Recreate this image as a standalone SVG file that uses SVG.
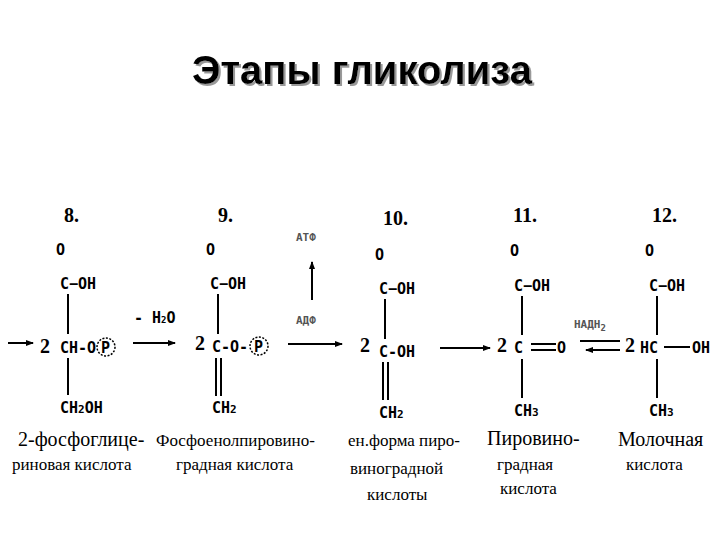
<svg xmlns="http://www.w3.org/2000/svg" width="720" height="540" viewBox="0 0 720 540">
<defs>
<marker id="ah" markerWidth="8" markerHeight="6" refX="7" refY="3" orient="auto" markerUnits="userSpaceOnUse"><path d="M0,0 L8,3 L0,6 Z" fill="#000"/></marker>
<filter id="sh" x="-5%" y="-20%" width="110%" height="150%"><feDropShadow dx="2" dy="2" stdDeviation="0.5" flood-color="#999"/></filter>
<style>
.t{font-family:"Liberation Sans",Arial,sans-serif;font-size:40px;font-weight:bold}
.f{font-family:"DejaVu Sans Mono","Liberation Mono",monospace;font-size:15px;font-weight:bold;fill:#000}
.s{font-family:"DejaVu Sans Mono","Liberation Mono",monospace;font-size:11px;font-weight:bold;fill:#555}
.n{font-family:"Liberation Serif","Times New Roman",serif;font-size:20px;font-weight:bold}
.c{font-family:"Liberation Serif","Times New Roman",serif;font-size:20px}
.c2{font-family:"Liberation Serif","Times New Roman",serif;font-size:17px}
line{stroke:#000;stroke-width:2}
.p{fill:none;stroke:#000;stroke-width:1.5;stroke-dasharray:2 1.5}
</style>
</defs>
<rect width="720" height="540" fill="#fff"/>
<text class="t" x="362" y="84" text-anchor="middle" filter="url(#sh)">Этапы гликолиза</text>

<g id="s8">
<text class="n" x="64" y="222">8.</text>
<text class="f" x="56" y="255">O</text>
<text class="f" x="60" y="289">C−OH</text>
<line x1="68" y1="294" x2="68" y2="334"/>
<text class="n" x="40" y="353">2</text>
<text class="f" x="60" y="353">CH-O</text>
<circle class="p" cx="106" cy="347" r="9"/><text class="f" x="101" y="353">P</text>
<line x1="68" y1="358" x2="68" y2="395"/>
<text class="f" x="60" y="413">CH<tspan font-size="11">2</tspan>OH</text>
<text class="c" x="18" y="446">2-фосфоглице-</text>
<text class="c2" x="12" y="470">риновая кислота</text>
</g>

<g id="s9">
<text class="n" x="218" y="222">9.</text>
<text class="f" x="206" y="255">O</text>
<text class="f" x="210" y="289">C−OH</text>
<line x1="218" y1="294" x2="218" y2="334"/>
<text class="n" x="195" y="350">2</text>
<text class="f" x="212" y="352">C-O-</text>
<circle class="p" cx="259" cy="346" r="9"/><text class="f" x="254" y="352">P</text>
<line x1="216" y1="358" x2="216" y2="396"/><line x1="221" y1="358" x2="221" y2="396"/>
<text class="f" x="212" y="413">CH<tspan font-size="11">2</tspan></text>
<text class="c2" x="156" y="446">Фосфоенолпировино-</text>
<text class="c2" x="176" y="470">градная кислота</text>
</g>

<g id="s10">
<text class="n" x="383" y="225">10.</text>
<text class="f" x="375" y="260">O</text>
<text class="f" x="379" y="294">C−OH</text>
<line x1="385" y1="299" x2="385" y2="339"/>
<text class="n" x="360" y="352">2</text>
<text class="f" x="379" y="357">C-OH</text>
<line x1="383" y1="362" x2="383" y2="400"/><line x1="388" y1="362" x2="388" y2="400"/>
<text class="f" x="379" y="418">CH<tspan font-size="11">2</tspan></text>
<text class="c2" x="348" y="446">ен.форма пиро-</text>
<text class="c2" x="350" y="474">виноградной</text>
<text class="c2" x="367" y="500">кислоты</text>
</g>

<g id="s11">
<text class="n" x="513" y="222">11.</text>
<text class="f" x="510" y="256">O</text>
<text class="f" x="514" y="291">C−OH</text>
<line x1="522" y1="296" x2="522" y2="335"/>
<text class="n" x="497" y="352">2</text>
<text class="f" x="514" y="353">C</text>
<line x1="531" y1="344" x2="556" y2="344"/><line x1="531" y1="350" x2="556" y2="350"/>
<text class="f" x="557" y="353">O</text>
<line x1="522" y1="359" x2="522" y2="398"/>
<text class="f" x="514" y="416">CH<tspan font-size="11">3</tspan></text>
<text class="c" x="487" y="445">Пировино-</text>
<text class="c2" x="497" y="470">градная</text>
<text class="c2" x="500" y="494">кислота</text>
</g>

<g id="s12">
<text class="n" x="652" y="222">12.</text>
<text class="f" x="645" y="256">O</text>
<text class="f" x="649" y="291">C−OH</text>
<line x1="657" y1="296" x2="657" y2="335"/>
<text class="n" x="625" y="352">2</text>
<text class="f" x="640" y="353">HC</text>
<line x1="664" y1="347" x2="690" y2="347"/>
<text class="f" x="692" y="353">OH</text>
<line x1="657" y1="359" x2="657" y2="398"/>
<text class="f" x="649" y="416">CH<tspan font-size="11">3</tspan></text>
<text class="c" x="618" y="446">Молочная</text>
<text class="c2" x="626" y="470">кислота</text>
</g>

<g id="connectors">
<line x1="8" y1="343" x2="33" y2="343" marker-end="url(#ah)"/>
<line x1="133" y1="343" x2="175" y2="343" marker-end="url(#ah)"/>
<text class="f" x="134" y="323" font-size="13">- H<tspan font-size="9">2</tspan>O</text>
<text class="s" x="296" y="241">АТФ</text>
<line x1="312" y1="300" x2="312" y2="262" marker-end="url(#ah)"/>
<text class="s" x="296" y="324">АДФ</text>
<line x1="288" y1="344" x2="342" y2="344" marker-end="url(#ah)"/>
<line x1="440" y1="348" x2="490" y2="348" marker-end="url(#ah)"/>
<text class="s" x="574" y="328" font-size="12">НАДН<tspan font-size="9" dy="3">2</tspan></text>
<line x1="580" y1="341" x2="620" y2="341"/>
<line x1="620" y1="350" x2="586" y2="350" marker-end="url(#ah)"/>
</g>
</svg>
